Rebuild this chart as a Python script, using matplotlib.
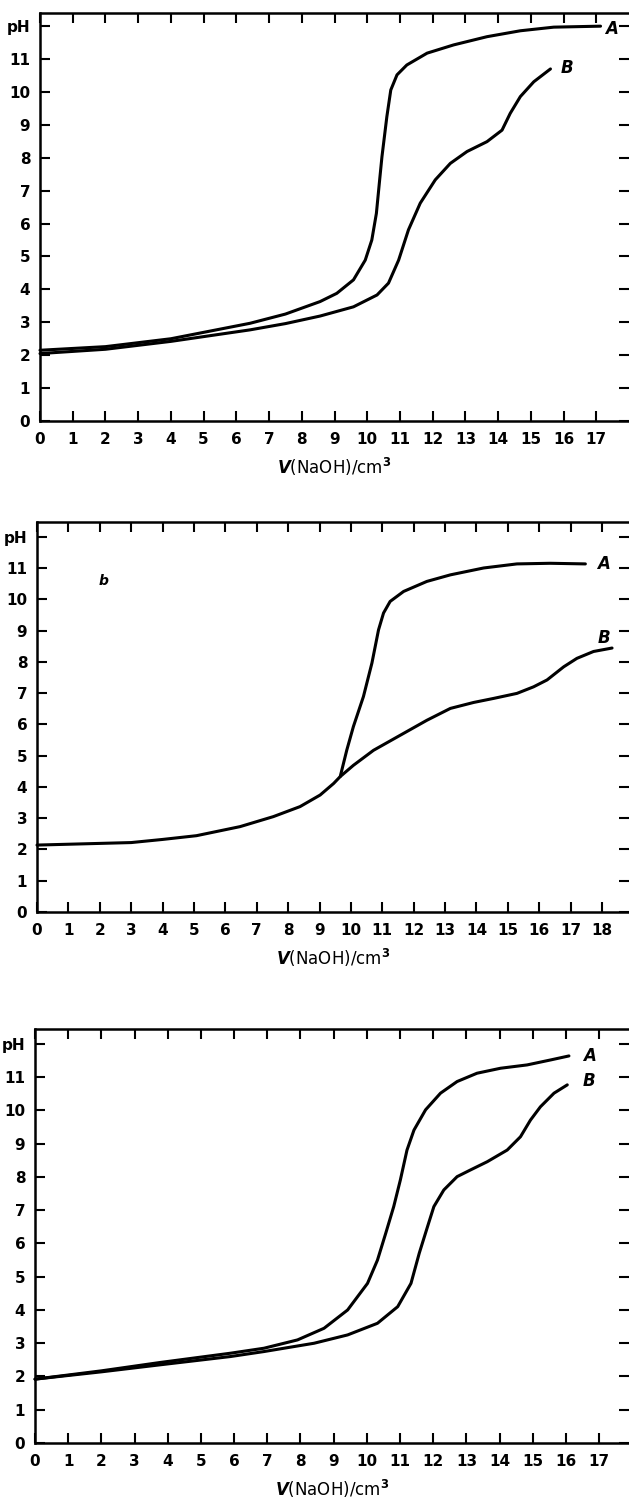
"""Three pH titration curves (A, B) against added NaOH volume, stacked vertically."""

import matplotlib

matplotlib.use("Agg")
import matplotlib.pyplot as plt

FONT = ["Liberation Sans Narrow", "DejaVu Sans"]

# --- panel 1 -----------------------------------------------------------------
p1_a_vol = [0, 2.0, 4.0, 6.42, 7.5, 8.56, 9.07, 9.58, 9.94, 10.14, 10.28,
            10.38, 10.45, 10.6, 10.72, 10.91, 11.21, 11.83, 12.64, 13.66,
            14.68, 15.7, 17.13]
p1_a_ph = [2.15, 2.26, 2.5, 2.97, 3.25, 3.63, 3.88, 4.29, 4.89, 5.5, 6.31,
           7.33, 8.03, 9.25, 10.06, 10.52, 10.82, 11.18, 11.43, 11.68, 11.86,
           11.97, 12.0]
p1_b_vol = [0, 2.0, 4.0, 6.42, 7.5, 8.56, 9.58, 10.3, 10.65, 10.96, 11.26,
            11.62, 12.08, 12.54, 13.05, 13.66, 14.12, 14.37, 14.68, 15.09,
            15.6]
p1_b_ph = [2.05, 2.18, 2.42, 2.77, 2.96, 3.19, 3.47, 3.83, 4.19, 4.89, 5.81,
           6.62, 7.33, 7.83, 8.19, 8.49, 8.84, 9.35, 9.86, 10.31, 10.7]

# --- panel 2 (curves share the first part up to the branch point) -----------
p2_common_vol = [0, 3.0, 4.0, 5.08, 6.47, 7.53, 8.38, 9.02, 9.45, 9.66]
p2_common_ph = [2.14, 2.22, 2.32, 2.44, 2.73, 3.05, 3.37, 3.74, 4.11, 4.33]
p2_a_vol = [9.87, 10.08, 10.4, 10.67, 10.88, 11.04, 11.25, 11.68, 12.42,
            13.17, 14.23, 15.29, 16.35, 17.47]
p2_a_ph = [5.18, 5.93, 6.89, 7.96, 9.02, 9.56, 9.93, 10.25, 10.57, 10.78,
           11.0, 11.13, 11.15, 11.13]
p2_b_vol = [10.08, 10.72, 11.57, 12.42, 13.17, 13.91, 14.55, 15.29, 15.82,
            16.25, 16.78, 17.2, 17.73, 18.32]
p2_b_ph = [4.69, 5.17, 5.65, 6.13, 6.51, 6.7, 6.83, 6.99, 7.2, 7.42, 7.84,
           8.11, 8.33, 8.44]

# --- panel 3 -----------------------------------------------------------------
p3_a_vol = [0, 2.0, 3.76, 5.89, 6.9, 7.91, 8.71, 9.42, 10.02, 10.32, 10.57,
            10.81, 11.01, 11.21, 11.42, 11.77, 12.22, 12.72, 13.32, 14.03,
            14.83, 15.54, 16.09]
p3_a_ph = [1.92, 2.17, 2.42, 2.7, 2.85, 3.1, 3.45, 4.0, 4.8, 5.5, 6.31, 7.11,
           7.91, 8.81, 9.41, 10.02, 10.52, 10.87, 11.12, 11.27, 11.37, 11.52,
           11.64]
p3_b_vol = [0, 2.0, 3.76, 5.89, 6.9, 8.41, 9.42, 10.32, 10.93, 11.33, 11.58,
            11.83, 12.02, 12.32, 12.72, 13.12, 13.63, 14.23, 14.63, 14.93,
            15.23, 15.64, 16.04]
p3_b_ph = [1.92, 2.14, 2.35, 2.6, 2.75, 3.0, 3.25, 3.6, 4.1, 4.8, 5.71, 6.51,
           7.11, 7.61, 8.01, 8.21, 8.46, 8.81, 9.21, 9.71, 10.11, 10.52, 10.77]

ph_ticks = list(range(13))
ph_labels = [str(v) for v in range(12)] + ["pH"]


def _style_axes(ax, xmax, ymax, n_xlabels):
    ax.set_xlim(0, xmax)
    ax.set_ylim(0, ymax)
    ax.spines["right"].set_visible(False)
    for side in ("left", "bottom", "top"):
        ax.spines[side].set_linewidth(1.8)

    ax.set_xticks(range(n_xlabels))
    ax.set_xticklabels([str(v) for v in range(n_xlabels)])
    ax.set_yticks(ph_ticks)
    ax.set_yticklabels(ph_labels)
    ax.tick_params(direction="in", length=7.5, width=1.5, top=True, right=True,
                   labelsize=11, pad=7)
    ax.tick_params(axis="x", pad=8)
    for lab in ax.get_xticklabels() + ax.get_yticklabels():
        lab.set_family(FONT)
        lab.set_fontweight("bold")
    ax.set_xlabel("$\\mathit{V}$(NaOH)/cm$^{3}$", fontsize=12, labelpad=6)


def _label(ax, x, y, text, size=12):
    ax.text(x, y, text, family=FONT, fontweight="bold", fontstyle="italic",
            fontsize=size, ha="center", va="center")


def _curve(ax, vol, ph):
    ax.plot(vol, ph, color="black", lw=2.2, solid_joinstyle="round",
            solid_capstyle="round", clip_on=False)


plt.rcParams["mathtext.fontset"] = "custom"
plt.rcParams["mathtext.rm"] = "Liberation Sans Narrow:bold"
plt.rcParams["mathtext.it"] = "Liberation Sans Narrow:bold:italic"
plt.rcParams["font.family"] = FONT

fig = plt.figure(figsize=(6.29, 14.98), dpi=100)

ax1 = fig.add_axes([40 / 629, 1 - 421 / 1498, 589 / 629, 408 / 1498])
_style_axes(ax1, 18.0, 12.4, 18)
_curve(ax1, p1_a_vol, p1_a_ph)
_curve(ax1, p1_b_vol, p1_b_ph)
_label(ax1, 17.48, 11.9, "A")
_label(ax1, 16.1, 10.72, "B")

ax2 = fig.add_axes([37 / 629, 1 - 912 / 1498, 592 / 629, 390 / 1498])
_style_axes(ax2, 18.86, 12.47, 19)
_curve(ax2, p2_common_vol + p2_a_vol, p2_common_ph + p2_a_ph)
_curve(ax2, p2_common_vol[-1:] + p2_b_vol, p2_common_ph[-1:] + p2_b_ph)
_label(ax2, 18.05, 11.13, "A")
_label(ax2, 18.05, 8.75, "B")
_label(ax2, 2.11, 10.57, "b", size=10)

ax3 = fig.add_axes([35 / 629, 1 - 1443 / 1498, 594 / 629, 414 / 1498])
_style_axes(ax3, 17.9, 12.45, 18)
_curve(ax3, p3_a_vol, p3_a_ph)
_curve(ax3, p3_b_vol, p3_b_ph)
_label(ax3, 16.72, 11.64, "A")
_label(ax3, 16.69, 10.89, "B")

fig.savefig("out.png", dpi=100)
